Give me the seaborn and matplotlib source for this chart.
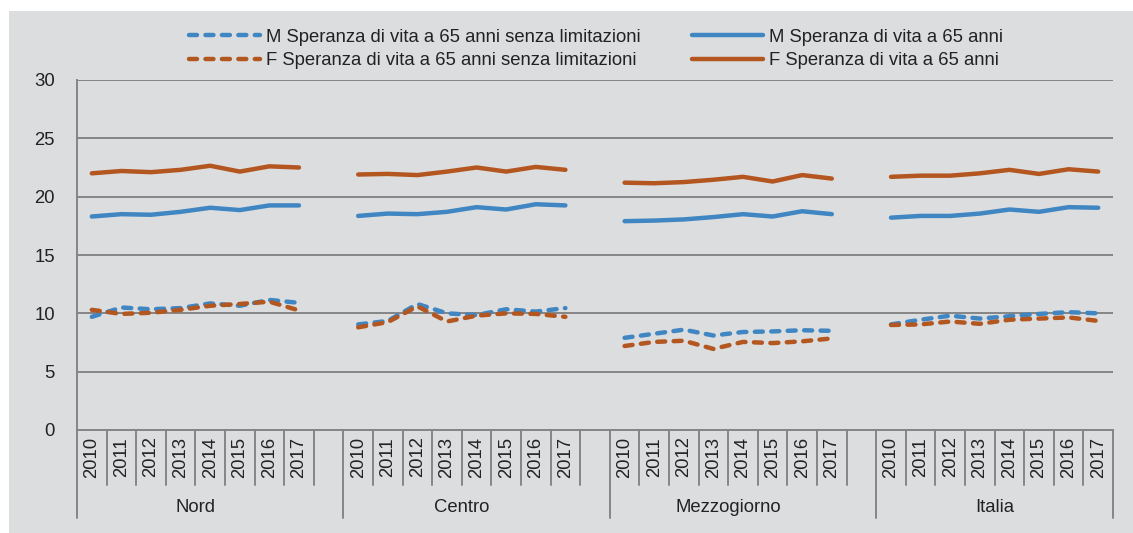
import numpy as np
import pandas as pd
import matplotlib
matplotlib.use("Agg")
import matplotlib.pyplot as plt
from matplotlib.lines import Line2D
from matplotlib.patches import Rectangle
import seaborn as sns

# ---------------- data ----------------
regions = ["Nord", "Centro", "Mezzogiorno", "Italia"]
years = ["2010", "2011", "2012", "2013", "2014", "2015", "2016", "2017"]

m_senza = {
    "Nord":        [9.7, 10.5, 10.35, 10.45, 10.85, 10.65, 11.15, 10.9],
    "Centro":      [9.05, 9.35, 10.8, 10.0, 9.85, 10.35, 10.15, 10.45],
    "Mezzogiorno": [7.9, 8.25, 8.6, 8.1, 8.4, 8.45, 8.55, 8.5],
    "Italia":      [9.05, 9.45, 9.8, 9.55, 9.75, 9.95, 10.1, 10.0],
}
f_senza = {
    "Nord":        [10.3, 9.95, 10.05, 10.3, 10.65, 10.8, 11.0, 10.25],
    "Centro":      [8.8, 9.25, 10.6, 9.3, 9.8, 10.0, 9.95, 9.7],
    "Mezzogiorno": [7.2, 7.55, 7.65, 6.95, 7.55, 7.45, 7.6, 7.85],
    "Italia":      [9.0, 9.05, 9.3, 9.1, 9.45, 9.55, 9.65, 9.35],
}
m_vita = {
    "Nord":        [18.3, 18.5, 18.45, 18.7, 19.05, 18.85, 19.25, 19.25],
    "Centro":      [18.35, 18.55, 18.5, 18.7, 19.1, 18.9, 19.35, 19.25],
    "Mezzogiorno": [17.9, 17.95, 18.05, 18.25, 18.5, 18.3, 18.75, 18.5],
    "Italia":      [18.2, 18.35, 18.35, 18.55, 18.9, 18.7, 19.1, 19.05],
}
f_vita = {
    "Nord":        [22.0, 22.2, 22.1, 22.3, 22.65, 22.15, 22.6, 22.5],
    "Centro":      [21.9, 21.95, 21.85, 22.15, 22.5, 22.15, 22.55, 22.3],
    "Mezzogiorno": [21.2, 21.15, 21.25, 21.45, 21.7, 21.3, 21.85, 21.55],
    "Italia":      [21.7, 21.8, 21.8, 22.0, 22.3, 21.95, 22.35, 22.15],
}

series_names = [
    "M Speranza di vita a 65 anni senza limitazioni",
    "F Speranza di vita a 65 anni senza limitazioni",
    "M Speranza di vita a 65 anni",
    "F Speranza di vita a 65 anni",
]
series_data = [m_senza, f_senza, m_vita, f_vita]

BLUE = "#3f86c2"
ORANGE = "#b3561f"
palette = {series_names[0]: BLUE, series_names[1]: ORANGE,
           series_names[2]: BLUE, series_names[3]: ORANGE}
is_dashed = {series_names[0]: True, series_names[1]: True,
             series_names[2]: False, series_names[3]: False}

# long-form table
rows = []
slot = len(years) + 1
for name, d in zip(series_names, series_data):
    for g, reg in enumerate(regions):
        for i, v in enumerate(d[reg]):
            rows.append({"x": g * slot + i, "value": v, "series": name, "region": reg})
df = pd.DataFrame(rows)

# ---------------- figure ----------------
sns.set_theme(style="white")
plt.rcParams["font.family"] = ["Liberation Sans", "DejaVu Sans"]

BG = "#dcdddf"
GRID = "#858585"
TXT = "#222222"
FS = 13.3

fig = plt.figure(figsize=(11.33, 5.33), dpi=100)
fig.patch.set_facecolor("white")
fig.patches.append(Rectangle((9 / 1133, 0), 1 - 9 / 1133, 1 - 11 / 533,
                             transform=fig.transFigure, facecolor=BG,
                             edgecolor="none", zorder=-10))

ax = fig.add_axes([77 / 1133, 103 / 533, (1113 - 77) / 1133, 350 / 533])
ax.set_facecolor(BG)

dash_style = (1.8, 1.9)
for name in series_names:
    sub = df[df["series"] == name]
    sns.lineplot(data=sub, x="x", y="value", units="region", estimator=None,
                 color=palette[name], lw=3.2, ax=ax, legend=False,
                 solid_capstyle="round", dash_capstyle="round")
    if is_dashed[name]:
        for ln in ax.lines[-len(regions):]:
            ln.set_dashes(dash_style)

total = len(regions) * slot - 1
ax.set_xlim(-0.5, total - 0.5)
ax.set_ylim(0, 30)
ax.set_yticks(np.arange(0, 31, 5))
ax.set_xticks([])
ax.set_xlabel("")
ax.set_ylabel("")
for y in np.arange(5, 31, 5):
    ax.axhline(y, color=GRID, lw=1.4, zorder=0)
for s in ["top", "right"]:
    ax.spines[s].set_visible(False)
ax.spines["left"].set_color(GRID)
ax.spines["left"].set_linewidth(1.4)
ax.spines["bottom"].set_color(GRID)
ax.spines["bottom"].set_linewidth(1.4)
ax.tick_params(axis="y", direction="out", length=6, width=1.4, color=GRID,
               labelsize=FS, labelcolor=TXT, pad=10)

# category axis (years + regions)
trans = matplotlib.transforms.blended_transform_factory(ax.transData, ax.transAxes)
short_y = -55 / 350
long_y = -88 / 350
for g, reg in enumerate(regions):
    start = g * slot - 0.5
    ax.add_line(Line2D([start, start], [0, long_y], transform=trans,
                       color=GRID, lw=1.4, clip_on=False))
    for i, yr in enumerate(years):
        ax.text(g * slot + i, -27 / 350, yr, transform=trans, rotation=90,
                ha="center", va="center", fontsize=FS, color=TXT)
    nsep = len(years) + 1 if g < len(regions) - 1 else len(years)
    for j in range(1, nsep):
        xx = start + j
        ax.add_line(Line2D([xx, xx], [0, short_y], transform=trans,
                           color=GRID, lw=1.4, clip_on=False))
    ax.text(g * slot + (len(years) - 1) / 2, -78 / 350, reg, transform=trans,
            ha="center", va="center", fontsize=FS, color=TXT)
end = total - 0.5
ax.add_line(Line2D([end, end], [0, long_y], transform=trans,
                   color=GRID, lw=1.4, clip_on=False))

# legend
handles = []
for name in series_names:
    h = Line2D([], [], color=palette[name], lw=3.2,
               solid_capstyle="round", dash_capstyle="round")
    if is_dashed[name]:
        h.set_dashes(dash_style)
    handles.append(h)
leg = fig.legend(handles, series_names, loc="center",
                 bbox_to_anchor=(596 / 1133, 1 - 49 / 533), ncol=2,
                 frameon=False, fontsize=FS, handlelength=3.85,
                 handletextpad=0.35, columnspacing=2.75, labelspacing=0.33)
for t in leg.get_texts():
    t.set_color(TXT)

fig.savefig("out.png", dpi=100, facecolor=fig.get_facecolor())
